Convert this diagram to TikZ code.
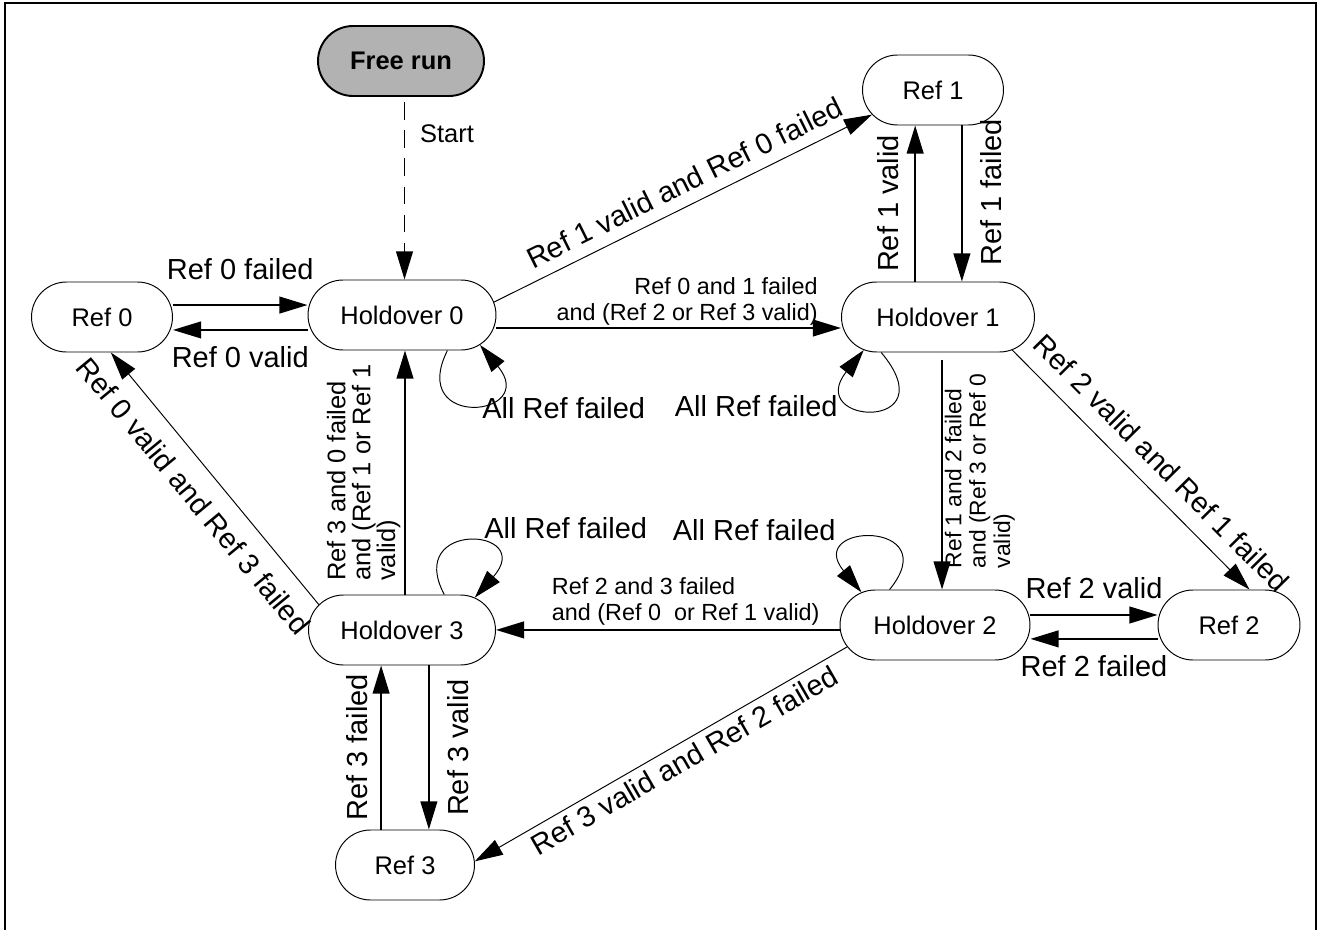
\documentclass[tikz,border=0pt]{standalone}
\usepackage{fontspec}
\setmainfont{Liberation Sans}
\usetikzlibrary{arrows.meta,shapes.misc}
\definecolor{freegray}{RGB}{178,178,178}

\begin{document}
\begin{tikzpicture}[x=0.02cm, y=-0.02cm,
    state/.style={draw, line width=0.55pt, rounded rectangle, minimum height=1.4cm, inner sep=0pt, font=\fontsize{14.5pt}{17pt}\selectfont},
    thickarrow/.style={line width=1.1pt, -{Triangle[length=16pt, width=9.5pt]}},
    thinarrow/.style={line width=0.55pt, -{Triangle[length=16pt, width=9.5pt]}},
    biglabel/.style={font=\fontsize{16.5pt}{19pt}\selectfont},
    smalllabel/.style={font=\fontsize{13.3pt}{14.7pt}\selectfont},
  ]
  \useasboundingbox (0,0) rectangle (1320,930);

  % Frame
  \draw[line width=1.1pt] (5,930) -- (5,3) -- (1316,3) -- (1316,930);

  % States
  \node[state, fill=freegray, line width=1.1pt, minimum width=3.32cm, font=\bfseries\fontsize{14.5pt}{17pt}\selectfont] (free) at (401,61) {Free run};
  \node[state, minimum width=2.82cm] (ref0) at (102,317) {Ref 0};
  \node[state, minimum width=3.76cm] (hold0) at (402,315) {Holdover 0};
  \node[state, minimum width=2.82cm] (ref1) at (933,90) {Ref 1};
  \node[state, minimum width=3.86cm] (hold1) at (938,317) {Holdover 1};
  \node[state, minimum width=3.8cm] (hold2) at (935,625) {Holdover 2};
  \node[state, minimum width=2.84cm] (ref2) at (1229,625) {Ref 2};
  \node[state, minimum width=3.74cm] (hold3) at (402,630) {Holdover 3};
  \node[state, minimum width=2.78cm] (ref3) at (405,865) {Ref 3};

  % Start
  \draw[thickarrow, dash pattern=on 10pt off 6pt, shorten <=3pt] ([xshift=2pt]free.south) -- ([xshift=2pt]free.south |- hold0.north)
    node[pos=0.2, right=5pt, font=\fontsize{14.5pt}{17pt}\selectfont] (startlbl) {Start};

  % Ref 0 and Holdover 0
  \draw[thickarrow] ([yshift=6.8pt]ref0.east) -- ([yshift=6.8pt]ref0.east -| hold0.west)
    node[midway, above=10.4pt, biglabel] (r0fail) {Ref 0 failed};
  \draw[thickarrow] ([yshift=-8.5pt]hold0.west) -- ([yshift=-8.5pt]hold0.west -| ref0.east)
    node[midway, below=5.8pt, biglabel] (r0valid) {Ref 0 valid};

  % Holdover 0 to Holdover 1
  \draw[thickarrow] ([yshift=-7.4pt]hold0.east) -- ([yshift=-7.4pt]hold0.east -| hold1.west)
    node[pos=0.94, anchor=south east, inner sep=1pt, align=right, smalllabel] (h01lbl) {Ref 0 and 1 failed\\and (Ref 2 or Ref 3 valid)};

  % Holdover 0 to Ref 1
  \draw[thinarrow] (hold0.8) -- (ref1.202)
    node[pos=0.53, above=3pt, sloped, biglabel] (r1lbl) {Ref 1 valid and Ref 0 failed};

  % Holdover 1 and Ref 1
  \draw[thickarrow] ([xshift=-13pt]hold1.north) -- ([xshift=-13pt]hold1.north |- ref1.south)
    node[midway, rotate=90, anchor=south, outer sep=5.8pt, biglabel] (r1valid) {Ref 1 valid};
  \draw[thickarrow] ([xshift=13.6pt]hold1.north |- ref1.south) -- ([xshift=13.6pt]hold1.north)
    node[pos=0.43, rotate=90, anchor=north, outer sep=7.5pt, biglabel] (r1failed) {Ref 1 failed};

  % Holdover 1 to Holdover 2
  \draw[thickarrow, shorten <=4pt] ([xshift=2.3pt]hold1.south) -- ([xshift=2.3pt]hold1.south |- hold2.north)
    node[midway, rotate=90, anchor=north, inner sep=1pt, align=left, font=\fontsize{13pt}{13.9pt}\selectfont] (h12lbl) {Ref 1 and 2 failed\\and (Ref 3 or Ref 0\\valid)};

  % Holdover 1 to Ref 2
  \draw[thinarrow] (hold1.-24) -- (ref2.60)
    node[pos=0.55, above=5.5pt, sloped, biglabel] (r2lbl) {Ref 2 valid and Ref 1 failed};

  % Holdover 2 and Ref 2
  \draw[thickarrow] ([yshift=5.7pt]hold2.east) -- ([yshift=5.7pt]hold2.east -| ref2.west)
    node[midway, above=5.5pt, biglabel] (r2valid) {Ref 2 valid};
  \draw[thickarrow] ([yshift=-7.9pt]ref2.west) -- ([yshift=-7.9pt]ref2.west -| hold2.east)
    node[midway, below=5.5pt, biglabel] (r2failed) {Ref 2 failed};

  % Holdover 2 to Holdover 3
  \draw[thickarrow] ([yshift=-2.8pt]hold2.west) -- ([yshift=-2.8pt]hold2.west -| hold3.east)
    node[pos=0.85, anchor=south west, inner sep=2pt, align=left, smalllabel] (h23lbl) {Ref 2 and 3 failed\\and (Ref 0\ \ or Ref 1 valid)};

  % Holdover 2 to Ref 3
  \draw[thinarrow] (hold2.194) -- (ref3.3)
    node[pos=0.46, below, sloped, biglabel] (r3lbl) {Ref 3 valid and Ref 2 failed};

  % Holdover 3 to Holdover 0
  \draw[thickarrow] ([xshift=1.7pt]hold3.north) -- ([xshift=1.7pt]hold0.south)
    node[midway, rotate=90, anchor=south, inner sep=2pt, align=left, font=\fontsize{14.5pt}{14.2pt}\selectfont] (h30lbl) {Ref 3 and 0 failed\\and (Ref 1 or Ref 1\\valid)};

  % Holdover 3 to Ref 0
  \draw[thinarrow] (hold3.163) -- (ref0.-76)
    node[midway, below=6pt, sloped, biglabel] (r0lbl) {Ref 0 valid and Ref 3 failed};

  % Holdover 3 and Ref 3
  \draw[thickarrow] ([xshift=15.3pt]hold3.south) -- ([xshift=15.3pt]hold3.south |- ref3.north)
    node[midway, rotate=90, anchor=north, outer sep=7.5pt, biglabel] (r3valid) {Ref 3 valid};
  \draw[thickarrow] ([xshift=-11.9pt]hold3.south |- ref3.north) -- ([xshift=-11.9pt]hold3.south)
    node[midway, rotate=90, anchor=south, outer sep=4.1pt, biglabel] (r3failed) {Ref 3 failed};

  % Self loops
  \draw[thinarrow] (hold0.-38) .. controls +(-40,80) and +(60,72) .. (hold0.-21);
  \node[biglabel, anchor=west, inner sep=0pt] (loop0lbl) at (482,408) {All Ref failed};
  \draw[thinarrow] (hold1.212) .. controls +(67,80) and +(-60,75) .. (hold1.204);
  \node[biglabel, anchor=east, inner sep=0pt] (loop1lbl) at (838,406) {All Ref failed};
  \draw[thinarrow] (hold2.142) .. controls +(57,-70) and +(-58,-70) .. (hold2.156);
  \node[biglabel, anchor=east, inner sep=0pt] (loop2lbl) at (836,530) {All Ref failed};
  \draw[thinarrow] (hold3.40) .. controls +(-40,-75) and +(62,-70) .. (hold3.24);
  \node[biglabel, anchor=west, inner sep=0pt] (loop3lbl) at (484,528) {All Ref failed};
\end{tikzpicture}
\end{document}
